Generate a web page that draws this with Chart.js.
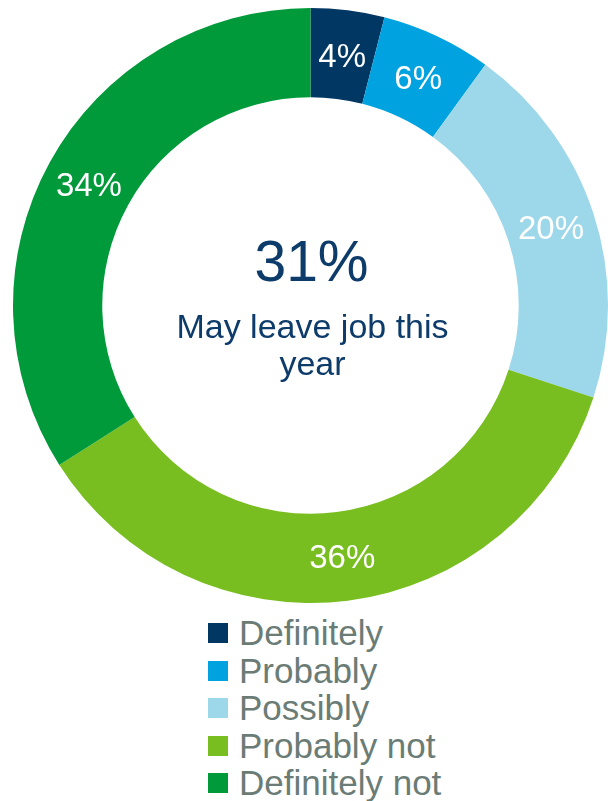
<!DOCTYPE html>
<html>
<head>
<meta charset="utf-8">
<script src="https://cdn.jsdelivr.net/npm/chart.js@4.4.1/dist/chart.umd.min.js"></script>
<style>
  html, body { margin: 0; padding: 0; background: #ffffff; }
  body { width: 608px; height: 801px; position: relative; overflow: hidden; font-family: "Liberation Sans", Arial, sans-serif; }
  #wrap { position: absolute; left: 0; top: 0; width: 608px; height: 603px; }
  #legend { position: absolute; left: 208px; top: 614px; margin: 0; padding: 0; list-style: none; }
  #legend li { height: 37.5px; line-height: 37.5px; font-size: 35px; color: #6a7c75; white-space: nowrap; position: relative; padding-left: 31px; }
  #legend li span { position: absolute; left: 0; top: 9px; width: 20px; height: 20px; }
</style>
</head>
<body>
<div id="wrap"><canvas id="chart"></canvas></div>
<ul id="legend"></ul>
<script>
// Answers to "How likely are you to leave your job this year?"
const categories = ["Definitely", "Probably", "Possibly", "Probably not", "Definitely not"];
const shares = [4, 6, 20, 36, 34];
const sliceColors = ["#003763", "#00a3e0", "#9cd7ea", "#78be20", "#009a3a"];
const headline = "31%";
const headlineLines = ["May leave job this", "year"];

// Percent labels placed at the middle of each ring segment
const sliceLabels = {
  id: "sliceLabels",
  afterDatasetsDraw(chart) {
    const ctx = chart.ctx;
    const meta = chart.getDatasetMeta(0);
    ctx.save();
    ctx.fillStyle = "#ffffff";
    ctx.font = '33px "Liberation Sans", Arial, sans-serif';
    ctx.textAlign = "center";
    ctx.textBaseline = "alphabetic";
    meta.data.forEach((arc, i) => {
      const p = arc.tooltipPosition();
      ctx.fillText(shares[i] + "%", p.x, p.y + 12);
    });
    ctx.restore();
  }
};

// Headline figure and caption in the hole of the ring
const centerText = {
  id: "centerText",
  afterDraw(chart) {
    const ctx = chart.ctx;
    const arc = chart.getDatasetMeta(0).data[0];
    const cx = arc.x, cy = arc.y;
    ctx.save();
    ctx.fillStyle = "#0d3b6a";
    ctx.textAlign = "center";
    ctx.textBaseline = "alphabetic";
    ctx.font = '57px "Liberation Sans", Arial, sans-serif';
    ctx.fillText(headline, cx + 1, cy - 25);
    ctx.font = '34px "Liberation Sans", Arial, sans-serif';
    ctx.fillText(headlineLines[0], cx + 2, cy + 32);
    ctx.fillText(headlineLines[1], cx + 2, cy + 69);
    ctx.restore();
  }
};

const chart = new Chart(document.getElementById("chart"), {
  type: "doughnut",
  data: {
    labels: categories,
    datasets: [{
      data: shares,
      backgroundColor: sliceColors,
      borderWidth: 0,
      hoverOffset: 0
    }]
  },
  options: {
    responsive: true,
    maintainAspectRatio: false,
    animation: false,
    cutout: "70%",
    layout: { padding: { left: 13, top: 8, right: 0, bottom: 0 } },
    plugins: {
      legend: { display: false },
      tooltip: { enabled: false }
    }
  },
  plugins: [sliceLabels, centerText]
});

// Vertical legend built from the chart's own legend items
const legendEl = document.getElementById("legend");
Chart.overrides.doughnut.plugins.legend.labels.generateLabels(chart).forEach(item => {
  const li = document.createElement("li");
  const box = document.createElement("span");
  box.style.background = item.fillStyle;
  li.appendChild(box);
  li.appendChild(document.createTextNode(item.text));
  legendEl.appendChild(li);
});
</script>
</body>
</html>
